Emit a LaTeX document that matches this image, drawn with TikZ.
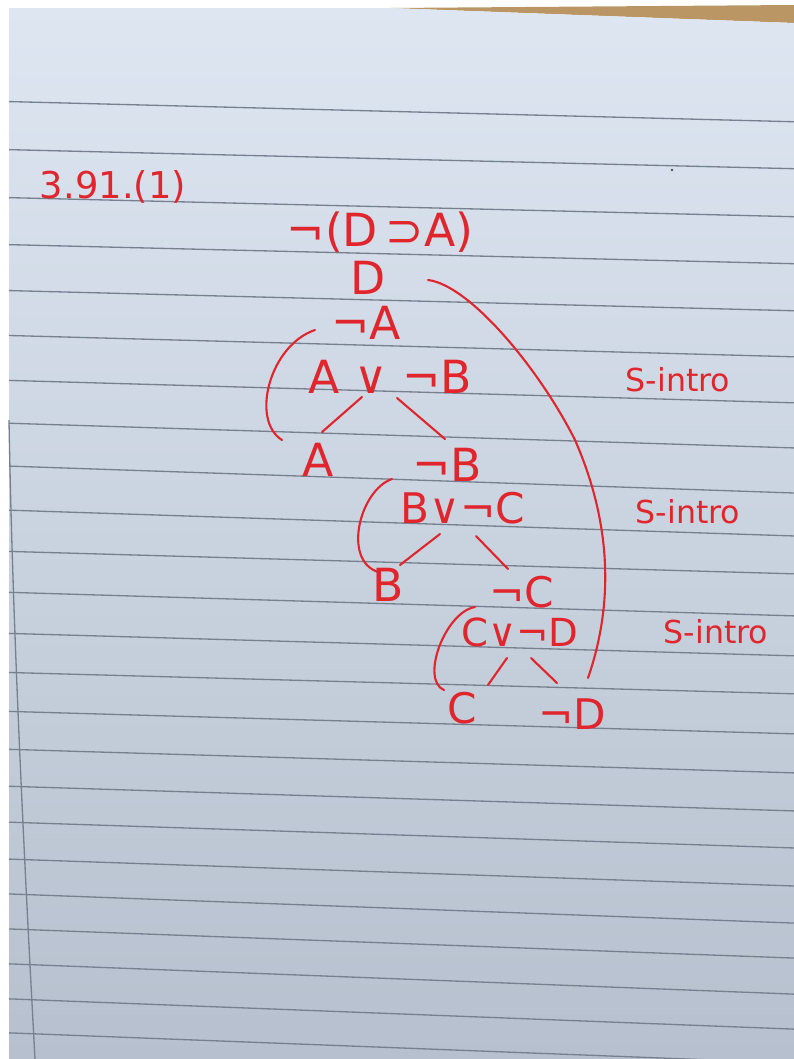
\documentclass[tikz,border=0pt]{standalone}
\usepackage{fontspec}
\setmainfont{DejaVu Sans}
\usetikzlibrary{calc}
\definecolor{ink}{RGB}{224,38,44}
\definecolor{papertop}{RGB}{221,230,241}
\definecolor{papermid}{RGB}{203,213,226}
\definecolor{paperbot}{RGB}{182,192,206}
\definecolor{ruleline}{RGB}{118,128,143}
\definecolor{tabletan}{RGB}{186,150,100}
\tikzset{
  hw/.style={inner sep=0pt, text=ink, anchor=center},
  fbig/.style={font=\fontsize{26}{30}\selectfont},
  fmid/.style={font=\fontsize{24}{28}\selectfont},
  fsmall/.style={font=\fontsize{22}{26}\selectfont},
  fnote/.style={font=\fontsize{18}{22}\selectfont},
  pen/.style={draw=ink, line width=1.2pt, line cap=round, line join=round},
  ruled/.style={draw=ruleline, line width=0.75pt}
}
\begin{document}
\begin{tikzpicture}[x=0.02cm,y=-0.02cm]
\useasboundingbox (0,0) rectangle (794,1059);
\fill[white] (0,0) rectangle (794,1059);
% table edge
\fill[tabletan] (390,8) -- (794,5) -- (794,23) -- cycle;
% paper
\shade[top color=papertop, middle color=papermid, bottom color=paperbot]
  (9,8) -- (390,8) -- (794,23) -- (794,1059) -- (9,1059) -- cycle;
% ruled lines
\foreach \a/\b in {103/121,151/168,199/216,246/263,292/310,337/356,382/402,425/447,468/492,512/535,553/573,594/615,635/655,674/693,713/733,751/772,788/810,824/847,861/885,896/922,931/957,966/993,1001/1028,1035/1062}{
  \draw[ruled] ($(65,\a)!-0.08!(765,\b)$) -- ($(65,\a)!1.042!(765,\b)$);
}
% margin line
\draw[ruled] (9,420) .. controls (12,600) and (22,820) .. (35,1059);
% speck
\fill[black!70] (672,170) circle (1.3);

% title
\node[hw, font=\fontsize{21}{25}\selectfont] (title) at (113,187) {3.91.(1)};

% tree
\node[hw, fbig] (t0) at (380,232) {¬(D\,⊃A)};
\node[hw, fbig] (t1) at (368,278) {D};
\node[hw, fbig] (t2) at (366,323) {¬A};
\node[hw, fbig] (t3) at (390,377) {A ∨ ¬B};
\node[hw, fbig] (t4) at (318,460) {A};
\node[hw, fbig] (t5) at (447,465) {¬B};
\node[hw, fmid] (t6) at (463,508) {B∨¬C};
\node[hw, fbig] (t7) at (388,585) {B};
\node[hw, fmid] (t8) at (522,592) {¬C};
\node[hw, fsmall] (t9) at (520,632) {C∨¬D};
\node[hw, fmid] (t10) at (462,708) {C};
\node[hw, fmid] (t11) at (572,714) {¬D};

% rule labels
\node[hw, fnote] (s1) at (678,380) {S-intro};
\node[hw, fnote] (s2) at (688,512) {S-intro};
\node[hw, fnote] (s3) at (716,632) {S-intro};

% branches
\draw[pen] ($(t3.center)+(-28,20)$) -- ($(t4.center)+(4,-28)$);
\draw[pen] ($(t3.center)+(7,21)$) -- ($(t5.center)+(-2,-26)$);
\draw[pen] ($(t6.center)+(-23,26)$) -- ($(t7.center)+(12,-20)$);
\draw[pen] ($(t6.center)+(13,28)$) -- ($(t8.center)+(-14,-23)$);
\draw[pen] ($(t9.center)+(-13,26)$) -- ($(t10.center)+(26,-23)$);
\draw[pen] ($(t9.center)+(11,26)$) -- ($(t11.center)+(-15,-31)$);

% closure arcs
\draw[pen] ($(t2.center)+(-51,7)$) .. controls (270,345) and (250,420) .. ($(t4.center)+(-36,-20)$);
\draw[pen] ($(t5.center)+(-55,14)$) .. controls (360,490) and (342,560) .. ($(t7.center)+(-10,-13)$);
\draw[pen] ($(t8.center)+(-47,15)$) .. controls (445,612) and (420,680) .. ($(t10.center)+(-18,-18)$);
\draw[pen] ($(t1.center)+(60,2)$) .. controls (470,285) and (540,370) .. (575,440)
  .. controls (610,520) and (615,600) .. ($(t11.center)+(16,-36)$);
\end{tikzpicture}
\end{document}
